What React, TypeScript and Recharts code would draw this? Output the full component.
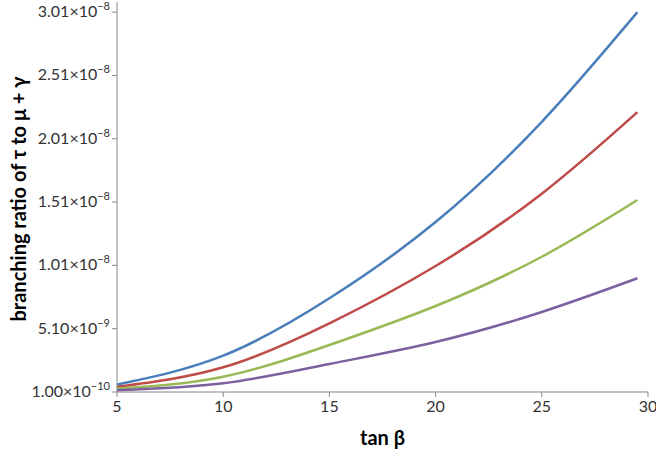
import React from 'react';
import { LineChart, Line, XAxis, YAxis } from 'recharts';

const tanBeta = [5, 10, 15, 20, 25, 29.5];
const seriesBlue = [6.9e-10, 2.97e-9, 7.5e-9, 1.352e-8, 2.144e-8, 3.01e-8];
const seriesRed = [5.1e-10, 2.05e-9, 5.52e-9, 1.005e-8, 1.576e-8, 2.22e-8];
const seriesGreen = [3.8e-10, 1.31e-9, 3.81e-9, 6.89e-9, 1.078e-8, 1.526e-8];
const seriesPurple = [2.4e-10, 7.9e-10, 2.31e-9, 4.05e-9, 6.42e-9, 9.08e-9];

const xTicks = [5, 10, 15, 20, 25, 30];
const yTicks = [1.0e-10, 5.1e-9, 1.01e-8, 1.51e-8, 2.01e-8, 2.51e-8, 3.01e-8];
const yTickMantissa = ['1.00', '5.10', '1.01', '1.51', '2.01', '2.51', '3.01'];
const yTickExponent = ['\u221210', '\u22129', '\u22128', '\u22128', '\u22128', '\u22128', '\u22128'];

const data = tanBeta.map((t, i) => ({
  t,
  blue: seriesBlue[i],
  red: seriesRed[i],
  green: seriesGreen[i],
  purple: seriesPurple[i],
}));

const FONT = 'Lato, "DejaVu Sans", sans-serif';
const AXIS_COLOR = '#868686';
const FRAME_COLOR = '#a9c4e2';

const YTick = (props: any) => {
  const { x, y, index } = props;
  return (
    <text x={x} y={y} dy={5} textAnchor="end" fontFamily={FONT} fontSize={16} fill="#333">
      {yTickMantissa[index]}×10
      <tspan dy={-7} fontSize={11}>{yTickExponent[index]}</tspan>
    </text>
  );
};

const XTick = (props: any) => {
  const { x, y, payload } = props;
  return (
    <text x={x} y={y} dy={13} textAnchor="middle" fontFamily={FONT} fontSize={16} fill="#333">
      {payload.value}
    </text>
  );
};

const YTitle = (props: any) => {
  const { viewBox } = props;
  const cx = 18;
  const cy = viewBox.y + viewBox.height / 2 + 2;
  return (
    <text
      transform={`translate(${cx}, ${cy}) rotate(-90)`}
      textAnchor="middle"
      dominantBaseline="central"
      fontFamily={FONT}
      fontWeight="bold"
      fontSize={20}
      fill="#000"
    >
      branching ratio of τ to μ + γ
    </text>
  );
};

const XTitle = (props: any) => {
  const { viewBox } = props;
  const cx = viewBox.x + viewBox.width / 2;
  return (
    <text x={cx} y={445} textAnchor="middle" fontFamily={FONT} fontWeight="bold" fontSize={20} fill="#000">
      tan β
    </text>
  );
};

export default function App() {
  return (
    <div style={{ position: 'absolute', left: 0, top: 0, width: 656, height: 455, background: '#fff' }}>
      <LineChart
        width={656}
        height={455}
        data={data}
        margin={{ top: 2, right: 8, bottom: 0, left: 0 }}
      >
        <XAxis
          dataKey="t"
          type="number"
          domain={[5, 30]}
          ticks={xTicks}
          height={63}
          axisLine={{ stroke: AXIS_COLOR }}
          tickLine={{ stroke: AXIS_COLOR }}
          tickSize={5}
          tick={<XTick />}
          label={<XTitle />}
          allowDataOverflow
        />
        <XAxis
          xAxisId="top"
          orientation="top"
          dataKey="t"
          type="number"
          domain={[5, 30]}
          height={0}
          tick={false}
          tickLine={false}
          axisLine={{ stroke: FRAME_COLOR }}
        />
        <YAxis
          type="number"
          domain={[1.0e-10, 3.09e-8]}
          ticks={yTicks}
          width={117}
          axisLine={{ stroke: AXIS_COLOR }}
          tickLine={{ stroke: AXIS_COLOR }}
          tickSize={5}
          tick={<YTick />}
          label={<YTitle />}
          interval={0}
          allowDataOverflow
        />
        <YAxis
          yAxisId="right"
          orientation="right"
          type="number"
          domain={[1.0e-10, 3.09e-8]}
          width={0}
          tick={false}
          tickLine={false}
          axisLine={{ stroke: FRAME_COLOR }}
        />
        <Line type="natural" dataKey="blue" stroke="#4a7ebb" strokeWidth={2.5} dot={false} isAnimationActive={false} />
        <Line type="natural" dataKey="red" stroke="#be4b48" strokeWidth={2.5} dot={false} isAnimationActive={false} />
        <Line type="natural" dataKey="green" stroke="#98b954" strokeWidth={2.5} dot={false} isAnimationActive={false} />
        <Line type="natural" dataKey="purple" stroke="#7d60a0" strokeWidth={2.5} dot={false} isAnimationActive={false} />
      </LineChart>
    </div>
  );
}
